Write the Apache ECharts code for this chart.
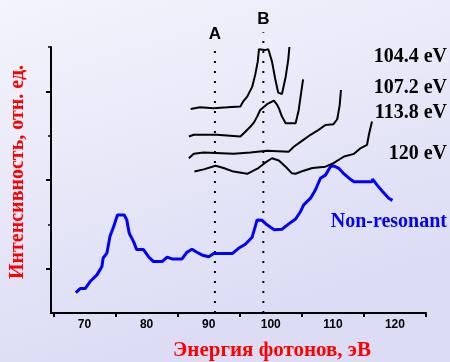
<!DOCTYPE html>
<html><head><meta charset="utf-8">
<script src="https://cdn.jsdelivr.net/npm/echarts@6/dist/echarts.min.js"></script>
<style>html,body{margin:0;padding:0;}#c{width:450px;height:362px;}</style>
</head><body><div id="c"></div>
<script>
// Tick values
const xTickLabels = [70, 80, 90, 100, 110, 120];
const xTickMarks = [65, 75, 85, 95, 105, 115, 125];
const yMajorTicks = [1, 3, 5];
const yMinorTicks = [2, 4, 6];

// Reference markers A, B
const markerNames = ['A', 'B'];
const markerX = [91, 98.8];
const markerTop = [6.0, 6.33];

// Curve labels
const curveNames = ['104.4 eV', '107.2 eV', '113.8 eV', '120 eV', 'Non-resonant'];

// Spectra [photon energy, intensity]
const spectrum104 = [[87.1,4.60],[88.6,4.64],[90.8,4.62],[93.0,4.64],[95.1,4.66],[95.6,4.78],[96.2,4.88],[97.0,5.10],[97.5,5.38],[97.9,5.67],[98.1,5.95],[99.0,5.93],[99.6,5.95],[100.2,5.67],[100.7,5.29],[101.2,4.97],[101.8,4.94],[102.4,5.33],[102.8,5.70],[103.0,6.0]];
const spectrum107 = [[86.8,3.98],[87.6,4.02],[91.3,4.02],[91.5,3.98],[95.1,3.98],[95.9,4.09],[96.7,4.20],[97.3,4.30],[97.8,4.43],[98.3,4.58],[99.4,4.71],[100.5,4.79],[101.0,4.70],[101.3,4.62],[101.8,4.43],[102.4,4.28],[104.0,4.28],[104.5,4.58],[104.8,4.88],[105.2,5.27]];
const spectrum113 = [[86.8,3.49],[87.6,3.59],[89.2,3.62],[94.0,3.59],[96.7,3.62],[99.4,3.66],[102.9,3.64],[103.7,3.75],[104.8,3.86],[106.4,4.02],[107.7,4.13],[108.8,4.24],[110.1,4.26],[110.7,4.37],[111.1,4.69],[111.3,5.03]];
const spectrum120 = [[87.7,3.19],[89.2,3.24],[91.1,3.32],[92.4,3.27],[94.0,3.19],[96.2,3.14],[98.0,3.27],[99.1,3.39],[100.2,3.49],[101.3,3.44],[102.4,3.30],[103.4,3.15],[104.0,3.14],[105.3,3.21],[106.7,3.27],[108.8,3.30],[110.1,3.38],[111.8,3.53],[113.4,3.59],[114.5,3.72],[115.5,3.79],[115.8,4.02],[116.3,4.32]];
const nonResonant = [[68.6,0.46],[69.3,0.55],[70.1,0.55],[70.9,0.71],[72.0,0.86],[72.8,1.05],[73.0,1.24],[73.6,1.35],[74.1,1.73],[74.7,1.95],[75.3,2.21],[76.4,2.21],[76.8,2.10],[77.2,1.80],[77.9,1.61],[78.4,1.43],[79.5,1.43],[80.3,1.27],[81.1,1.16],[82.5,1.16],[83.3,1.26],[84.1,1.22],[85.7,1.22],[86.5,1.37],[87.3,1.44],[88.1,1.37],[88.9,1.31],[90.0,1.27],[90.8,1.34],[93.8,1.34],[94.8,1.46],[95.9,1.55],[97.0,1.71],[97.8,2.10],[98.6,2.09],[99.4,1.99],[100.5,1.88],[101.8,1.89],[102.9,2.01],[104.0,2.12],[104.8,2.29],[105.3,2.44],[106.4,2.59],[107.2,2.78],[108.0,3.04],[108.8,3.11],[109.6,3.30],[110.1,3.32],[110.9,3.27],[111.7,3.15],[112.6,3.04],[113.4,2.96],[116.3,2.96],[116.4,3.02],[117.1,2.89],[118.0,2.74],[119.0,2.59],[119.6,2.54]];

const chart = echarts.init(document.getElementById('c'), null, {renderer: 'canvas'});
const serif = '"Liberation Serif", "Times New Roman", serif';
const sans = '"Liberation Sans", Arial, sans-serif';

function curve(data, color, width) {
  return {type: 'line', data: data, symbol: 'none', lineStyle: {color: color, width: width}, z: 3, silent: true};
}
function marker(i) {
  return {
    type: 'line', data: [[markerX[i], 0], [markerX[i], markerTop[i]]], clip: false,
    symbol: 'circle', symbolSize: 1, showSymbol: true, itemStyle: {color: 'transparent'},
    lineStyle: {color: '#000', width: 2, type: [2, 8]},
    label: {show: true, position: 'top', distance: 4, color: '#000', fontSize: 17, fontWeight: 'bold', fontFamily: sans,
      formatter: p => p.dataIndex === 1 ? markerNames[i] : ''},
    z: 2, silent: true
  };
}
function txt(text, x, y, color) {
  return {type: 'text', x: x, y: y, silent: true,
    style: {text: text, fill: color, font: 'bold 20px ' + serif, align: 'right', textAlign: 'right', verticalAlign: 'middle', textVerticalAlign: 'middle'}};
}

chart.setOption({
  animation: false,
  backgroundColor: {type: 'linear', x: 0, y: 0, x2: 0.25, y2: 1,
    colorStops: [{offset: 0, color: '#f4f4fc'}, {offset: 1, color: '#dcdcf5'}]},
  grid: {left: 51, right: 24, top: 47, bottom: 49},
  xAxis: {
    type: 'value', min: 64.6, max: 125,
    axisLine: {lineStyle: {color: '#000', width: 2}},
    splitLine: {show: false},
    axisTick: {customValues: xTickMarks, length: 4, lineStyle: {color: '#000', width: 2}},
    axisLabel: {customValues: xTickLabels, color: '#000', fontWeight: 'bold', fontSize: 12, fontFamily: sans, margin: 6}
  },
  yAxis: [
    {type: 'value', min: 0, max: 6,
      axisLine: {show: true, lineStyle: {color: '#000', width: 2}},
      splitLine: {show: false},
      axisTick: {show: true, customValues: yMajorTicks, length: 5, lineStyle: {color: '#000', width: 2}},
      axisLabel: {show: false}},
    {type: 'value', min: 0, max: 6, position: 'left',
      axisLine: {show: false}, splitLine: {show: false},
      axisTick: {show: true, customValues: yMinorTicks, length: 3, lineStyle: {color: '#000', width: 1.5}},
      axisLabel: {show: false}}
  ],
  graphic: [
    txt(curveNames[0], 447, 57, '#000'),
    txt(curveNames[1], 447, 88, '#000'),
    txt(curveNames[2], 447, 113, '#000'),
    txt(curveNames[3], 447, 154, '#000'),
    txt(curveNames[4], 447, 222, '#0000ff'),
    {type: 'text', x: 272, y: 351, silent: true,
      style: {text: 'Энергия фотонов, эВ', fill: '#ff0000', font: 'bold 21px ' + serif, align: 'center', textAlign: 'center', verticalAlign: 'middle', textVerticalAlign: 'middle'}},
    {type: 'text', x: 18, y: 172, rotation: Math.PI / 2, silent: true,
      style: {text: 'Интенсивность, отн. ед.', fill: '#ff0000', font: 'bold 20px ' + serif, align: 'center', textAlign: 'center', verticalAlign: 'middle', textVerticalAlign: 'middle'}}
  ],
  series: [
    marker(0), marker(1),
    curve(nonResonant, '#0000ff', 3),
    curve(spectrum104, '#000', 2),
    curve(spectrum107, '#000', 2),
    curve(spectrum113, '#000', 2),
    curve(spectrum120, '#000', 2)
  ]
});
</script></body></html>
